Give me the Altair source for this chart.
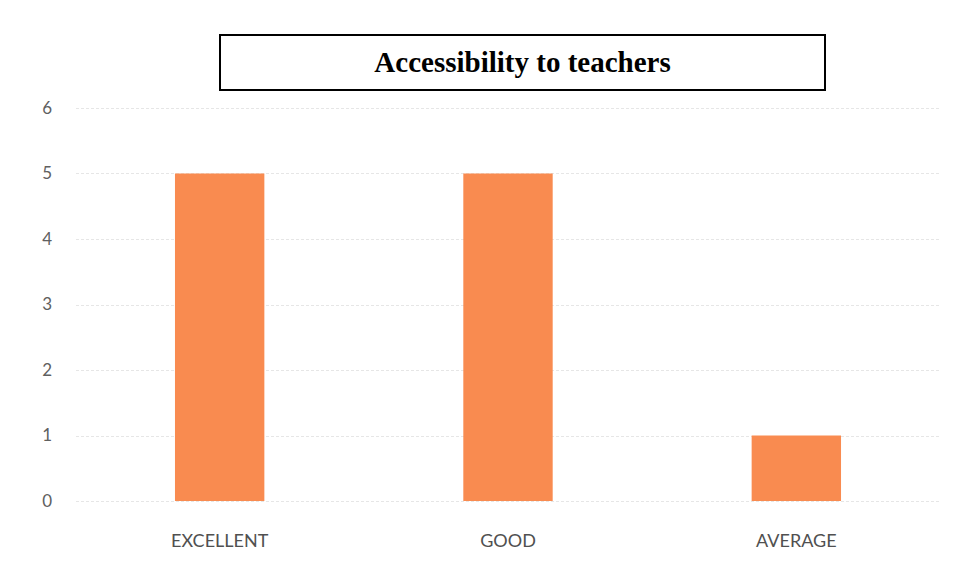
import altair as alt
import pandas as pd

categories = ["EXCELLENT", "GOOD", "AVERAGE"]
values = [5, 5, 1]
title_text = "Accessibility to teachers"

df = pd.DataFrame({"category": categories, "value": values})

base = alt.Chart(df)

bars = base.mark_bar(color="#F98B50").encode(
    x=alt.X("category:N", sort=categories,
            scale=alt.Scale(paddingInner=0.69, paddingOuter=0.345),
            axis=alt.Axis(title=None, labelAngle=0, domain=False, ticks=False,
                          labelPadding=31, labelFontSize=18, labelColor="#505050",
                          labelFont="Lato", labelFontWeight="normal", grid=False)),
    y=alt.Y("value:Q", scale=alt.Scale(domain=[0, 6]),
            axis=alt.Axis(title=None, values=[0, 1, 2, 3, 4, 5, 6], domain=False,
                          ticks=False, labelPadding=24, labelFontSize=17,
                          labelColor="#606060", labelFont="Lato",
                          gridColor="#e6e6e6", gridDash=[3, 2], gridWidth=1)),
)

box = alt.Chart(pd.DataFrame({"t": [title_text]})).mark_rect(
    fill="white", stroke="black", strokeWidth=2
).encode(
    x=alt.value(144.5), x2=alt.value(749.5),
    y=alt.value(-73), y2=alt.value(-18),
)

title = alt.Chart(pd.DataFrame({"t": [title_text]})).mark_text(
    font="Liberation Serif", fontSize=29, fontWeight="bold", color="black",
    align="center", baseline="middle"
).encode(
    text="t:N", x=alt.value(447), y=alt.value(-45),
)

chart = alt.layer(bars, box, title).properties(
    width=865, height=393,
    background="white",
    autosize=alt.AutoSizeParams(type="none"),
    padding={"left": 67.5, "top": 100, "right": 10, "bottom": 60},
).configure_view(strokeWidth=0, stroke="transparent")

chart.save("out.html", embed_options={"renderer": "svg", "actions": False})
